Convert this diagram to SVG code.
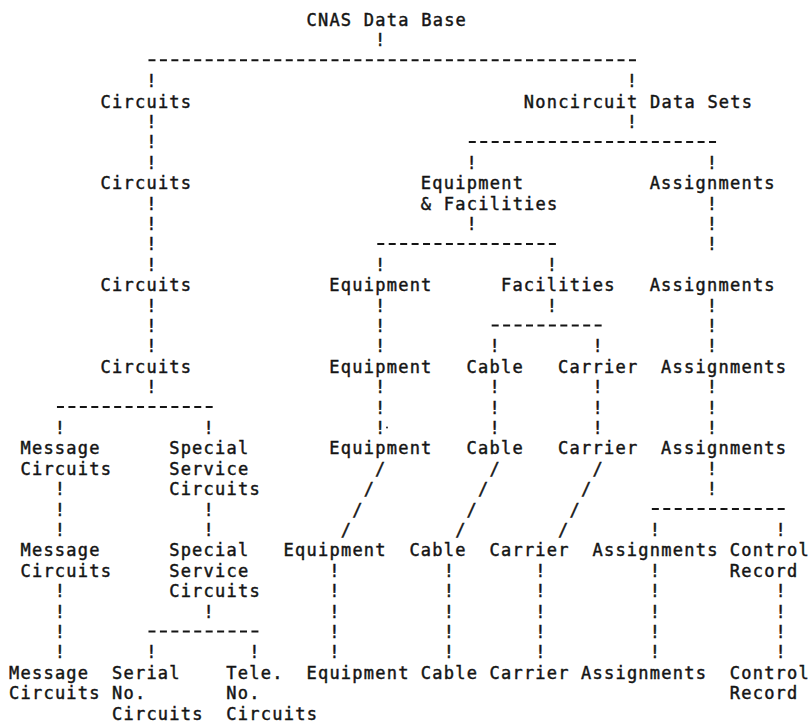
<svg xmlns="http://www.w3.org/2000/svg" width="810" height="722" viewBox="0 0 810 722">
  <style>
    text { font-family: "DejaVu Sans Mono", "Liberation Mono", monospace; font-size: 17px; fill: #141414; stroke: #141414; stroke-width: 0.45px; letter-spacing: 1.24px; }
    .dash { stroke: #141414; stroke-width: 2; stroke-dasharray: 7 4.44; fill: none; }
  </style>
  <rect width="810" height="722" fill="#ffffff"/>

  <!-- character grid: column c at x = 9 + 11.44c, row r baseline at y = 26 + 20.4r -->

  <g id="connectors">
    <!-- horizontal branch rules -->
    <line class="dash" x1="148.48" y1="60.3" x2="635.96" y2="60.3"/>
    <line class="dash" x1="468.8" y1="141.9" x2="716.04" y2="141.9"/>
    <line class="dash" x1="377.28" y1="243.9" x2="555.88" y2="243.9"/>
    <line class="dash" x1="491.68" y1="325.5" x2="601.64" y2="325.5"/>
    <line class="dash" x1="56.96" y1="407.1" x2="212.68" y2="407.1"/>
    <line class="dash" x1="651.84" y1="509.1" x2="784.68" y2="509.1"/>
    <line class="dash" x1="148.48" y1="631.5" x2="258.44" y2="631.5"/>

    <!-- vertical ticks -->
    <text x="375.08" y="46.4">!</text>
    <text x="146.28 626.76" y="87.2">!!</text>
    <text x="146.28 626.76" y="128">!!</text>
    <text x="146.28" y="148.4">!</text>
    <text x="146.28 466.6 706.84" y="168.8">!!!</text>
    <text x="146.28 706.84" y="209.6">!!</text>
    <text x="146.28 466.6 706.84" y="230">!!!</text>
    <text x="146.28 706.84" y="250.4">!!</text>
    <text x="146.28 375.08 546.68" y="270.8">!!!</text>
    <text x="146.28 375.08 546.68 706.84" y="311.6">!!!!</text>
    <text x="146.28 375.08 706.84" y="332">!!!</text>
    <text x="146.28 375.08 489.48 592.44 706.84" y="352.4">!!!!!</text>
    <text x="146.28 375.08 489.48 592.44 706.84" y="393.2">!!!!!</text>
    <text x="375.08 489.48 592.44 706.84" y="413.6">!!!!</text>
    <text x="54.76 203.48 375.08 489.48 592.44 706.84" y="434">!!!!!!</text>
    <circle cx="387" cy="427.5" r="0.9" fill="#141414"/>
    <text x="706.84" y="474.8">!</text>
    <text x="54.76 706.84" y="495.2">!!</text>
    <text x="54.76 203.48" y="515.6">!!</text>
    <text x="54.76 203.48 649.64 775.48" y="536">!!!!</text>
    <text x="329.32 443.72 535.24 649.64" y="576.8">!!!!</text>
    <text x="54.76 329.32 443.72 535.24 649.64 775.48" y="597.2">!!!!!!</text>
    <text x="54.76 203.48 329.32 443.72 535.24 649.64 775.48" y="617.6">!!!!!!!</text>
    <text x="54.76 329.32 443.72 535.24 649.64 775.48" y="638">!!!!!!</text>
    <text x="54.76 146.28 249.24 329.32 443.72 535.24 649.64 775.48" y="658.4">!!!!!!!!</text>

    <!-- diagonal runs -->
    <text x="375.08 489.48 592.44" y="474.8">///</text>
    <text x="363.64 478.04 581" y="495.2">///</text>
    <text x="352.2 466.6 569.56" y="515.6">///</text>
    <text x="340.76 455.16 558.12" y="536">///</text>
  </g>

  <g id="cnas-data-base"><text x="306.44" y="26">CNAS Data Base</text></g>

  <g id="circuits-1"><text x="100.52" y="107.6">Circuits</text></g>
  <g id="noncircuit-data-sets"><text x="523.8" y="107.6">Noncircuit Data Sets</text></g>

  <g id="circuits-2"><text x="100.52" y="189.2">Circuits</text></g>
  <g id="equipment-facilities"><text x="420.84" y="189.2">Equipment</text><text x="420.84" y="209.6">&amp; Facilities</text></g>
  <g id="assignments-1"><text x="649.64" y="189.2">Assignments</text></g>

  <g id="circuits-3"><text x="100.52" y="291.2">Circuits</text></g>
  <g id="equipment-1"><text x="329.32" y="291.2">Equipment</text></g>
  <g id="facilities"><text x="500.92" y="291.2">Facilities</text></g>
  <g id="assignments-2"><text x="649.64" y="291.2">Assignments</text></g>

  <g id="circuits-4"><text x="100.52" y="372.8">Circuits</text></g>
  <g id="equipment-2"><text x="329.32" y="372.8">Equipment</text></g>
  <g id="cable-1"><text x="466.6" y="372.8">Cable</text></g>
  <g id="carrier-1"><text x="558.12" y="372.8">Carrier</text></g>
  <g id="assignments-3"><text x="661.08" y="372.8">Assignments</text></g>

  <g id="message-circuits-1"><text x="20.44" y="454.4">Message</text><text x="20.44" y="474.8">Circuits</text></g>
  <g id="special-service-circuits-1"><text x="169.16" y="454.4">Special</text><text x="169.16" y="474.8">Service</text><text x="169.16" y="495.2">Circuits</text></g>
  <g id="equipment-3"><text x="329.32" y="454.4">Equipment</text></g>
  <g id="cable-2"><text x="466.6" y="454.4">Cable</text></g>
  <g id="carrier-2"><text x="558.12" y="454.4">Carrier</text></g>
  <g id="assignments-4"><text x="661.08" y="454.4">Assignments</text></g>

  <g id="message-circuits-2"><text x="20.44" y="556.4">Message</text><text x="20.44" y="576.8">Circuits</text></g>
  <g id="special-service-circuits-2"><text x="169.16" y="556.4">Special</text><text x="169.16" y="576.8">Service</text><text x="169.16" y="597.2">Circuits</text></g>
  <g id="equipment-4"><text x="283.56" y="556.4">Equipment</text></g>
  <g id="cable-3"><text x="409.4" y="556.4">Cable</text></g>
  <g id="carrier-3"><text x="489.48" y="556.4">Carrier</text></g>
  <g id="assignments-5"><text x="592.44" y="556.4">Assignments</text></g>
  <g id="control-record-1"><text x="729.72" y="556.4">Control</text><text x="729.72" y="576.8">Record</text></g>

  <g id="message-circuits-3"><text x="9" y="678.8">Message</text><text x="9" y="699.2">Circuits</text></g>
  <g id="serial-no-circuits"><text x="111.96" y="678.8">Serial</text><text x="111.96" y="699.2">No.</text><text x="111.96" y="719.6">Circuits</text></g>
  <g id="tele-no-circuits"><text x="226.36" y="678.8">Tele.</text><text x="226.36" y="699.2">No.</text><text x="226.36" y="719.6">Circuits</text></g>
  <g id="equipment-5"><text x="306.44" y="678.8">Equipment</text></g>
  <g id="cable-4"><text x="420.84" y="678.8">Cable</text></g>
  <g id="carrier-4"><text x="489.48" y="678.8">Carrier</text></g>
  <g id="assignments-6"><text x="581" y="678.8">Assignments</text></g>
  <g id="control-record-2"><text x="729.72" y="678.8">Control</text><text x="729.72" y="699.2">Record</text></g>
</svg>
